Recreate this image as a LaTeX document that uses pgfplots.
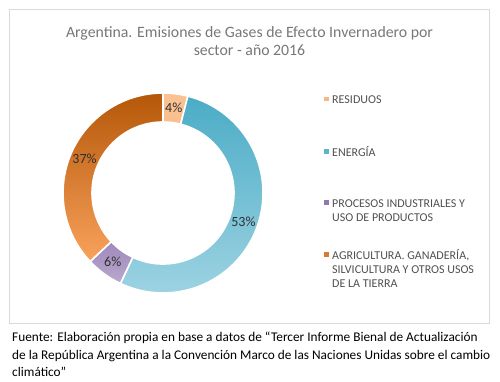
\documentclass[border=0pt]{standalone}
\usepackage{pgfplots}
\pgfplotsset{compat=1.18}
\usepackage{pgfplotstable}
\usepackage{fontspec}
\setmainfont{Carlito}

\definecolor{resA}{HTML}{FAC293}
\definecolor{resB}{HTML}{F7B683}
\definecolor{eneA}{HTML}{4BACC6}
\definecolor{eneB}{HTML}{9DD3E2}
\definecolor{proA}{HTML}{8064A2}
\definecolor{proB}{HTML}{B9A8CE}
\definecolor{agrA}{HTML}{B45708}
\definecolor{agrB}{HTML}{F9A25C}
\definecolor{titlec}{HTML}{777777}
\definecolor{legc}{HTML}{505050}
\definecolor{labc}{HTML}{303030}
\definecolor{boxc}{HTML}{D9D9D9}

% Emisiones por sector (%), orden horario desde las 12
\pgfplotstableread{
idx value
0 4
1 53
2 6
3 37
}\emisiones

\pgfplotstablegetelem{0}{value}\of\emisiones \let\vA\pgfplotsretval
\pgfplotstablegetelem{1}{value}\of\emisiones \let\vB\pgfplotsretval
\pgfplotstablegetelem{2}{value}\of\emisiones \let\vC\pgfplotsretval
\pgfplotstablegetelem{3}{value}\of\emisiones \let\vD\pgfplotsretval
\pgfmathsetmacro\tot{\vA+\vB+\vC+\vD}
\pgfmathsetmacro\aA{90}
\pgfmathsetmacro\aB{90-(\vA/\tot)*360}
\pgfmathsetmacro\aC{90-((\vA+\vB)/\tot)*360}
\pgfmathsetmacro\aD{90-((\vA+\vB+\vC)/\tot)*360}
\pgfmathsetmacro\aE{90-360}
\pgfmathsetmacro\mA{(\aA+\aB)/2}
\pgfmathsetmacro\mB{(\aB+\aC)/2}
\pgfmathsetmacro\mC{(\aC+\aD)/2}
\pgfmathsetmacro\mD{(\aD+\aE)/2}

\newcommand\donutwedge[4]{%
  \path[top color=#3, bottom color=#4, draw=white, line width=1.6pt]
    (axis cs:163,189) ++(#1:100pt) arc[start angle=#1, end angle=#2, radius=100pt]
    -- ++(#2:-29pt) arc[start angle=#2, end angle=#1, radius=71pt] -- cycle;}
\newcommand\donutlabel[2]{%
  \path (axis cs:163,189) ++(#1:85.5pt) node[font=\fontsize{14}{16}\selectfont, text=labc] {#2\%};}

\begin{document}
\begin{tikzpicture}
\begin{axis}[
  x=1pt, y=1pt, xmin=0, xmax=500, ymin=0, ymax=382,
  scale only axis, hide axis, clip=false,
]
\path[use as bounding box] (axis cs:0,0) rectangle (axis cs:500,382);
\draw[boxc, line width=1pt] (axis cs:9.5,372) rectangle (axis cs:489.5,58);
\node[align=center, font=\fontsize{15.8}{18}\selectfont, text=titlec] at (axis cs:249.5,341)
  {Argentina. Emisiones de Gases de Efecto Invernadero por\\sector - año 2016};

\donutwedge{\aA}{\aB}{resA}{resB}
\donutwedge{\aB}{\aC}{eneA}{eneB}
\donutwedge{\aC}{\aD}{proA}{proB}
\donutwedge{\aD}{\aE}{agrA}{agrB}

\donutlabel{\mA}{\vA}
\donutlabel{\mB}{\vB}
\donutlabel{\mC}{\vC}
\donutlabel{\mD}{\vD}

\node[anchor=base west, inner sep=0pt, font=\fontsize{12}{14}\selectfont, text=legc] at (axis cs:324,278)
 {\begin{tabular}[t]{@{}l@{\hspace{3pt}}l@{}}
  \textcolor{resB}{\rule[2.5pt]{5pt}{4.5pt}} & RESIDUOS\\[38pt]
  \textcolor{eneA!80!eneB}{\rule[2.5pt]{5pt}{4.5pt}} & ENERGÍA\\[37pt]
  \textcolor{proA!70!proB}{\rule[2.5pt]{5pt}{4.5pt}} & PROCESOS INDUSTRIALES Y\\
  & USO DE PRODUCTOS\\[24pt]
  \textcolor{agrA!50!agrB}{\rule[2.5pt]{5pt}{4.5pt}} & AGRICULTURA. GANADERÍA,\\
  & SILVICULTURA Y OTROS USOS\\
  & DE LA TIERRA
 \end{tabular}};

\node[anchor=north west, align=left, inner sep=0pt, font=\fontsize{13.3}{17.5}\selectfont] at (axis cs:12,50)
 {Fuente: Elaboración propia en base a datos de “Tercer Informe Bienal de Actualización\\
  de la República Argentina a la Convención Marco de las Naciones Unidas sobre el cambio\\
  climático”};
\end{axis}
\end{tikzpicture}
\end{document}
